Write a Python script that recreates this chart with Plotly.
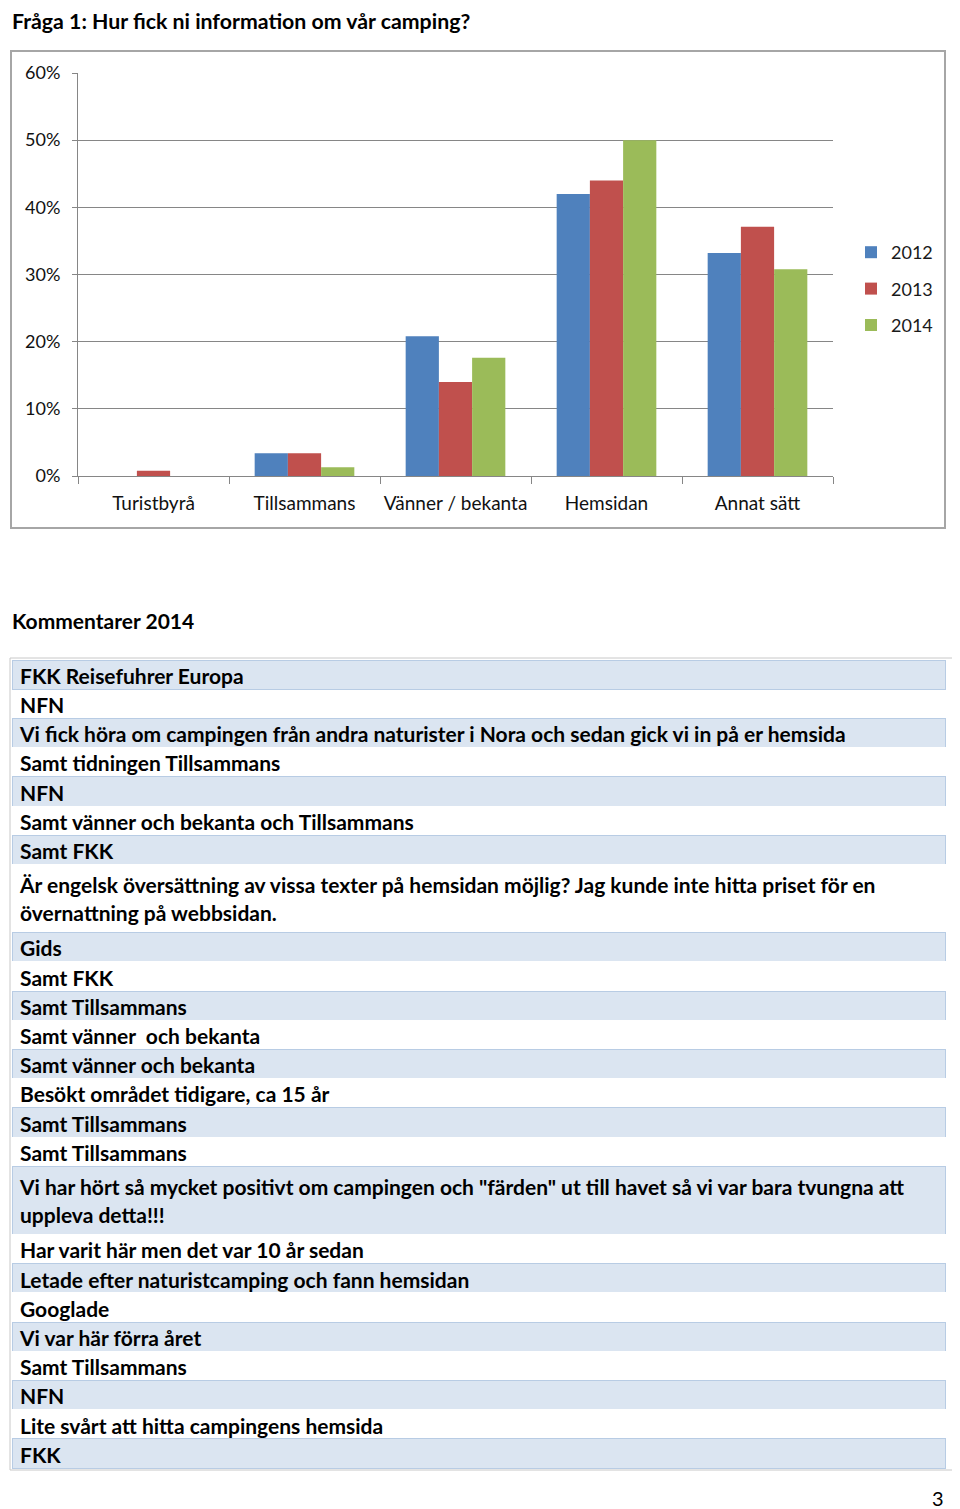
import plotly.graph_objects as go

# sidan har 8 px marginal i webbläsaren, så allt flyttas 8 px
OFF = 8
W, H = 960 - OFF, 1509 - OFF

# data
categories = ["Turistbyrå", "Tillsammans", "Vänner / bekanta", "Hemsidan", "Annat sätt"]
years = ["2012", "2013", "2014"]
v2012 = [0.0, 0.034, 0.208, 0.420, 0.332]
v2013 = [0.008, 0.034, 0.140, 0.440, 0.371]
v2014 = [0.0, 0.013, 0.176, 0.500, 0.308]
colors = ["#4F81BD", "#C0504D", "#9BBB59"]

comments = [
    "FKK Reisefuhrer Europa",
    "NFN",
    "Vi fick höra om campingen från andra naturister i Nora och sedan gick vi in på er hemsida",
    "Samt tidningen Tillsammans",
    "NFN",
    "Samt vänner och bekanta och Tillsammans",
    "Samt FKK",
    "Är engelsk översättning av vissa texter på hemsidan möjlig? Jag kunde inte hitta priset för en<br>övernattning på webbsidan.",
    "Gids",
    "Samt FKK",
    "Samt Tillsammans",
    "Samt vänner  och bekanta",
    "Samt vänner och bekanta",
    "Besökt området tidigare, ca 15 år",
    "Samt Tillsammans",
    "Samt Tillsammans",
    "Vi har hört så mycket positivt om campingen och \"färden\" ut till havet så vi var bara tvungna att<br>uppleva detta!!!",
    "Har varit här men det var 10 år sedan",
    "Letade efter naturistcamping och fann hemsidan",
    "Googlade",
    "Vi var här förra året",
    "Samt Tillsammans",
    "NFN",
    "Lite svårt att hitta campingens hemsida",
    "FKK",
]

FONT = "Lato"
SHADE, SHADE_LINE = "#DBE5F1", "#B8CCE4"


def px(x):
    return (x - OFF) / W


def py(y):
    return 1 - (y - OFF) / H


fig = go.Figure()

for name, vals, col in zip(years, [v2012, v2013, v2014], colors):
    fig.add_trace(go.Bar(x=categories, y=vals, name=name, marker_color=col,
                         marker_line_width=0, legendgroup=name))

# kommentarer-tabell (första raden som rubrikrad, samma stil)
rest = comments[1:]
fills = [SHADE if i % 2 == 1 else "white" for i in range(len(rest))]
lines = [SHADE_LINE if i % 2 == 1 else "white" for i in range(len(rest))]
tfont = dict(family=FONT, size=21, color="black", weight="bold")
fig.add_trace(go.Table(
    domain=dict(x=[px(12), px(945)], y=[py(1478), py(660)]),
    header=dict(values=[comments[0]], align="left", height=29.2,
                fill_color=SHADE, line=dict(color=SHADE_LINE, width=1), font=tfont),
    cells=dict(values=[rest], align="left", height=29.2,
               fill_color=[fills], line=dict(color=[lines], width=1), font=tfont),
))

fig.update_layout(
    width=W, height=H,
    margin=dict(l=0, r=0, t=0, b=0, autoexpand=False),
    paper_bgcolor="white", plot_bgcolor="white",
    barmode="group", bargap=0.34, bargroupgap=0,
    font=dict(family=FONT, color="#1a1a1a"),
    showlegend=True,
    legend=dict(x=px(851), y=py(234), xanchor="left", yanchor="top",
                font=dict(size=18, color="#1a1a1a"), tracegroupgap=10,
                bgcolor="rgba(0,0,0,0)"),
    xaxis=dict(domain=[px(78), px(833)], type="category", tickson="boundaries",
               automargin=False, tickangle=0,
               ticks="outside", ticklen=7, tickcolor="#868686",
               showline=True, linecolor="#868686", linewidth=1,
               showgrid=False, tickfont=dict(size=19, color="#111111"),
               ticklabelstandoff=10),
    yaxis=dict(domain=[py(476), py(73)], range=[0, 0.6], dtick=0.1,
               automargin=False,
               tickformat=".0%", ticks="outside", ticklen=5, tickcolor="#868686",
               showline=True, linecolor="#868686", linewidth=1,
               showgrid=True, gridcolor="#868686", gridwidth=1,
               zeroline=False, tickfont=dict(size=18, color="#111111"),
               ticklabelstandoff=8),
    shapes=[
        dict(type="rect", xref="paper", yref="paper",
             x0=px(11), x1=px(945), y0=py(528), y1=py(51),
             line=dict(color="#A6A6A6", width=2)),
        dict(type="rect", xref="paper", yref="paper",
             x0=px(10), x1=px(957), y0=py(1470), y1=py(658),
             line=dict(color="#C8C8C8", width=1)),
    ],
    annotations=[
        dict(text="<b>Fråga 1: Hur fick ni information om vår camping?</b>",
             x=px(10), y=py(21), xref="paper", yref="paper", xanchor="left",
             yanchor="middle", showarrow=False, font=dict(size=21.3, color="black")),
        dict(text="<b>Kommentarer 2014</b>",
             x=px(10), y=py(620), xref="paper", yref="paper", xanchor="left",
             yanchor="middle", showarrow=False, font=dict(size=21, color="black")),
        dict(text="3", x=px(946), y=py(1498), xref="paper", yref="paper",
             xanchor="right", yanchor="middle", showarrow=False,
             font=dict(size=20, color="black")),
    ],
)

fig.write_html("out.html")
